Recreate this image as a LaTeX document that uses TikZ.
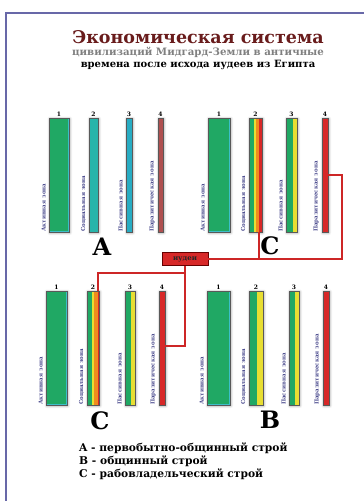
\documentclass[tikz,border=0pt]{standalone}
\usepackage{fontspec}
\setmainfont{DejaVu Serif}
\usetikzlibrary{positioning,calc,shadows.blur}

\definecolor{framec}{RGB}{104,104,168}
\definecolor{titlec}{RGB}{105,28,28}
\definecolor{grn}{RGB}{32,168,100}
\definecolor{edgec}{RGB}{60,190,200}
\definecolor{tealc}{RGB}{40,180,170}
\definecolor{cyanc}{RGB}{40,172,195}
\definecolor{brownc}{RGB}{175,80,80}
\definecolor{redc}{RGB}{215,40,40}
\definecolor{yelc}{RGB}{232,222,50}
\definecolor{orngc}{RGB}{240,140,30}
\definecolor{zonec}{RGB}{72,72,140}
\definecolor{linkc}{RGB}{205,38,38}

\tikzset{
  bar/.style={draw=black!65, line width=0.6pt, inner sep=0pt, outer sep=0pt,
    anchor=north west, minimum height=114pt,
    blur shadow={shadow blur steps=6, shadow xshift=0.8pt, shadow yshift=-0.8pt,
      shadow opacity=45, shadow blur radius=2.5pt}},
  edged/.style={path picture={\draw[edgec, line width=2pt]
    (path picture bounding box.south west) rectangle (path picture bounding box.north east);}},
  mix/.style n args={3}{path picture={
    \coordinate (pw) at (path picture bounding box.south west);
    \coordinate (pe) at (path picture bounding box.north east);
    \fill[yelc] ($(pw)!#1!(pw -| pe)$) rectangle (pe);
    \fill[orngc] ($(pw)!#2!(pw -| pe)$) rectangle (pe);
    \fill[redc] ($(pw)!#3!(pw -| pe)$) rectangle (pe);}},
  zone/.style={font=\fontsize{5.5}{5.5}\selectfont\bfseries, text=zonec, rotate=90,
    anchor=south west, inner sep=0pt},
  num/.style={font=\fontsize{6}{6}\selectfont\bfseries, above=1.5pt, inner sep=0pt},
  big/.style={font=\fontsize{24}{24}\selectfont\bfseries},
  link/.style={draw=linkc, line width=1.6pt},
  judbox/.style={fill=redc, draw=black!60!red, line width=0.8pt, text=black!85,
    font=\fontsize{7}{7}\selectfont\bfseries, minimum width=46pt, minimum height=13pt, inner sep=0pt}
}

\begin{document}
\begin{tikzpicture}[x=1pt, y=-1pt]
    \useasboundingbox (0,0) rectangle (364,501);
    % Frame
    \draw[framec, line width=2pt] (364,13) -- (6,13) -- (6,501);
    % Title
    \node[text=titlec, font=\fontsize{17.5}{17.5}\selectfont\bfseries] (ttl) at (198,37) {Экономическая система};
    \node[text=black!50, font=\fontsize{10.2}{10.2}\selectfont\bfseries] (sub1) at (198,52) {цивилизаций Мидгард-Земли в античные};
    \node[font=\fontsize{10}{10}\selectfont\bfseries] (sub2) at (198,65) {времена после исхода иудеев из Египта};

    % Panel A
    \node[bar, edged, fill=grn, minimum width=20pt] (a1) at (49,118) {};
    \node[bar, fill=tealc, minimum width=9pt] (a2) at (89,118) {};
    \node[bar, fill=cyanc, minimum width=6pt] (a3) at (126,118) {};
    \node[bar, fill=brownc, minimum width=5pt] (a4) at (158,118) {};
    \node[big] (la) at (102,247) {A};

    % Panel C (top)
    \node[bar, edged, fill=grn, minimum width=22pt] (c1) at (208,118) {};
    \node[bar, fill=grn, mix={0.38}{0.55}{0.78}, minimum width=13pt] (c2) at (249,118) {};
    \node[bar, fill=grn, mix={0.6}{1}{1}, minimum width=11pt] (c3) at (286,118) {};
    \node[bar, fill=redc, minimum width=6pt] (c4) at (322,118) {};
    \node[big] (lc1) at (270,246) {C};

    % Panel C (bottom)
    \node[bar, edged, fill=grn, minimum width=21pt] (d1) at (46,291) {};
    \node[bar, fill=grn, mix={0.4}{0.6}{0.92}, minimum width=12pt] (d2) at (87,291) {};
    \node[bar, fill=grn, mix={0.6}{1}{1}, minimum width=10pt] (d3) at (125,291) {};
    \node[bar, fill=redc, minimum width=6pt] (d4) at (159,291) {};
    \node[big] (lc2) at (100,421) {C};

    % Panel B
    \node[bar, edged, fill=grn, minimum width=23pt] (b1) at (207,291) {};
    \node[bar, fill=grn, mix={0.6}{1}{1}, minimum width=14pt] (b2) at (249,291) {};
    \node[bar, fill=grn, mix={0.6}{1}{1}, minimum width=10pt] (b3) at (289,291) {};
    \node[bar, fill=redc, minimum width=6pt] (b4) at (323,291) {};
    \node[big] (lb) at (270,420) {B};

    % Numbers
    \node[num] at (a1.north) {1}; \node[num] at (a2.north) {2};
    \node[num] at (a3.north) {3}; \node[num] at (a4.north) {4};
    \node[num] at (c1.north) {1}; \node[num] at (c2.north) {2};
    \node[num] at (c3.north) {3}; \node[num] at (c4.north) {4};
    \node[num] at (d1.north) {1}; \node[num] at (d2.north) {2};
    \node[num] at (d3.north) {3}; \node[num] at (d4.north) {4};
    \node[num] at (b1.north) {1}; \node[num] at (b2.north) {2};
    \node[num] at (b3.north) {3}; \node[num] at (b4.north) {4};

    % Zone labels
    \node[zone] at ([xshift=-3pt]a1.south west) {Активная зона};
    \node[zone] at ([xshift=-3pt]a2.south west) {Социальная зона};
    \node[zone] at ([xshift=-3pt]a3.south west) {Пассивная зона};
    \node[zone] at ([xshift=-3pt]a4.south west) {Паразитическая зона};
    \node[zone] at ([xshift=-3pt]c1.south west) {Активная зона};
    \node[zone] at ([xshift=-3pt]c2.south west) {Социальная зона};
    \node[zone] at ([xshift=-3pt]c3.south west) {Пассивная зона};
    \node[zone] at ([xshift=-3pt]c4.south west) {Паразитическая зона};
    \node[zone] at ([xshift=-3pt]d1.south west) {Активная зона};
    \node[zone] at ([xshift=-3pt]d2.south west) {Социальная зона};
    \node[zone] at ([xshift=-3pt]d3.south west) {Пассивная зона};
    \node[zone] at ([xshift=-3pt]d4.south west) {Паразитическая зона};
    \node[zone] at ([xshift=-3pt]b1.south west) {Активная зона};
    \node[zone] at ([xshift=-3pt]b2.south west) {Социальная зона};
    \node[zone] at ([xshift=-3pt]b3.south west) {Пассивная зона};
    \node[zone] at ([xshift=-3pt]b4.south west) {Паразитическая зона};

    % Links
    \node[judbox] (jud) at (185,259) {иудеи};
    \coordinate (bendA) at (342,175);
    \coordinate (bendB) at (342,259);
    \coordinate (knot) at (185,273);
    \coordinate (bendC) at (185,346);
    \draw[link] (c4.east |- bendA) -- (bendA) -- (bendB) -- (jud.east);
    \draw[link] ([xshift=-3pt]c2.south east) -- ([xshift=-3pt]c2.south east |- bendB);
    \draw[link] (jud.south) -- (bendC) -- (d4.east |- bendC);
    \draw[link] (knot) -- ([xshift=-1pt]d2.north east |- knot) -- ([xshift=-1pt]d2.north east);

    % Legend
    \node[font=\fontsize{10.7}{12.8}\selectfont\bfseries, align=left, anchor=north west, inner sep=0pt] (leg) at (79,443)
      {A - первобытно-общинный строй\\B - общинный строй\\C - рабовладельческий строй};
\end{tikzpicture}
\end{document}
